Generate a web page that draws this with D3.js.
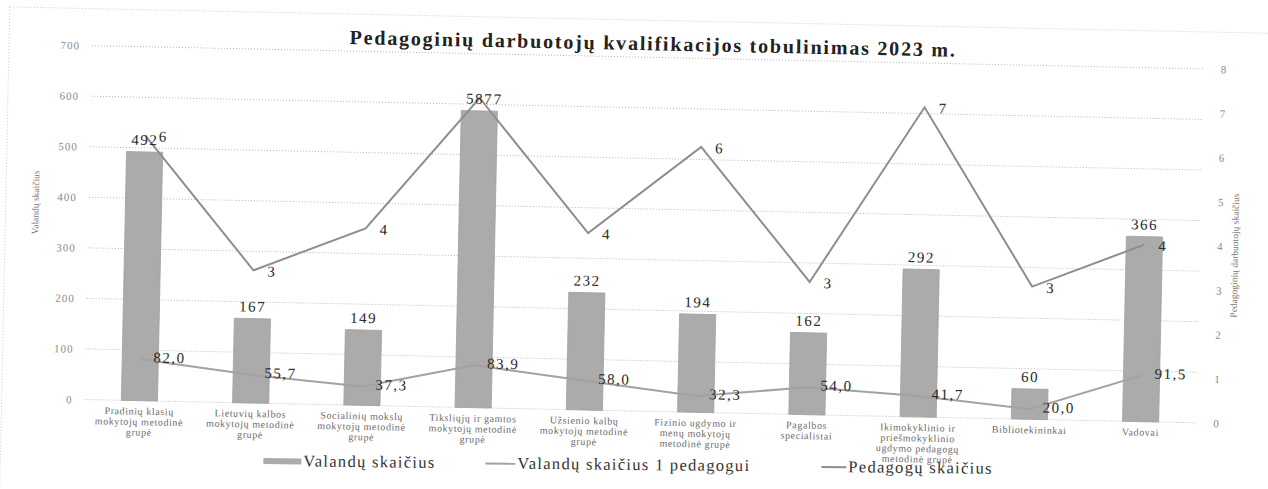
<!DOCTYPE html>
<html>

<head>
    <meta charset='utf-8'>
    <title>Pedagoginių darbuotojų kvalifikacijos tobulinimas 2023 m.</title>
    <script src='https://d3js.org/d3.v7.min.js'></script>
    <style>
        body { margin: 0; background: #fff; }
        svg text { font-family: "Liberation Serif", "Times New Roman", "DejaVu Serif", serif !important; }
    </style>
</head>

<body>
    <script>
        // chart data
        const categories = [
            'Pradinių klasių mokytojų metodinė grupė',
            'Lietuvių kalbos mokytojų metodinė grupė',
            'Socialinių mokslų mokytojų metodinė grupė',
            'Tiksliųjų ir gamtos mokytojų metodinė grupė',
            'Užsienio kalbų mokytojų metodinė grupė',
            'Fizinio ugdymo ir menų mokytojų metodinė grupė',
            'Pagalbos specialistai',
            'Ikimokyklinio ir priešmokyklinio ugdymo pedagogų metodinė grupė',
            'Bibliotekininkai',
            'Vadovai'
        ];
        const hours = [492, 167, 149, 587, 232, 194, 162, 292, 60, 366];
        const hoursPerTeacher = [82.0, 55.7, 37.3, 83.9, 58.0, 32.3, 54.0, 41.7, 20.0, 91.5];
        const teachers = [6, 3, 4, 7, 4, 6, 3, 7, 3, 4];

        const leftTicks = [0, 100, 200, 300, 400, 500, 600, 700];
        const rightTicks = [0, 1, 2, 3, 4, 5, 6, 7, 8];
        const seriesNames = ['Valandų skaičius', 'Valandų skaičius 1 pedagogui', 'Pedagogų skaičius'];

        const width = 1268, height = 489;
        const margin = { top: 57, right: 69, bottom: 78, left: 88 };

        // lithuanian decimal comma
        const lt = d3.formatLocale({ decimal: ',', thousands: ' ', grouping: [3], currency: ['', ' €'] });
        const f1 = lt.format('.1f');

        const svg = d3.select('body')
            .append('svg')
            .attr('width', width)
            .attr('height', height)
            .style('font-family', '"Liberation Serif", "Times New Roman", serif');

        // the scan is turned a little, so the whole chart is too
        const chart = svg.append('g')
            .attr('transform', 'rotate(1.2, 634, 244)');

        // faint chart border
        chart.append('rect')
            .attr('x', 5).attr('y', 20)
            .attr('width', 1300).attr('height', 520)
            .attr('fill', 'none')
            .attr('stroke', '#c8c8c8')
            .attr('stroke-dasharray', '1,2');

        const x = d3.scaleBand()
            .domain(categories)
            .range([margin.left, width - margin.right])
            .paddingInner(0.675)
            .paddingOuter(0.33);

        const yL = d3.scaleLinear()
            .domain([0, 700])
            .range([height - margin.bottom, margin.top]);

        const yR = d3.scaleLinear()
            .domain([0, 8])
            .range([height - margin.bottom, margin.top]);

        const cx = d => x(d) + x.bandwidth() / 2;

        // title
        chart.append('text')
            .attr('x', 649)
            .attr('y', 50)
            .attr('text-anchor', 'middle')
            .attr('font-size', '20px')
            .attr('font-weight', 'bold')
            .attr('letter-spacing', '1.8px')
            .attr('fill', '#222')
            .text('Pedagoginių darbuotojų kvalifikacijos tobulinimas 2023 m.');

        // gridlines
        chart.append('g')
            .selectAll('line')
            .data(leftTicks)
            .enter()
            .append('line')
            .attr('x1', margin.left)
            .attr('x2', width - margin.right)
            .attr('y1', d => yL(d))
            .attr('y2', d => yL(d))
            .attr('stroke', '#b5b5b5')
            .attr('stroke-dasharray', '1,2');

        // left axis
        const leftAxis = chart.append('g')
            .attr('transform', 'translate(' + (margin.left - 12) + ',0)')
            .call(d3.axisLeft(yL).tickValues(leftTicks).tickSize(0).tickPadding(0));
        leftAxis.attr('font-family', null);
        leftAxis.select('.domain').remove();
        leftAxis.selectAll('text')
            .attr('font-size', '11px')
            .attr('letter-spacing', '1px')
            .attr('fill', '#8a8a8a');

        // right axis
        const rightAxis = chart.append('g')
            .attr('transform', 'translate(' + (width - margin.right + 18) + ',0)')
            .call(d3.axisRight(yR).tickValues(rightTicks).tickSize(0).tickPadding(0));
        rightAxis.attr('font-family', null);
        rightAxis.select('.domain').remove();
        rightAxis.selectAll('text')
            .attr('font-size', '11px')
            .attr('fill', '#8a8a8a');

        // axis titles
        chart.append('text')
            .attr('transform', 'translate(38, 215) rotate(-90)')
            .attr('text-anchor', 'middle')
            .attr('font-size', '9.5px')
            .attr('fill', '#777')
            .text('Valandų skaičius');

        chart.append('text')
            .attr('transform', 'translate(1238, 243) rotate(-90)')
            .attr('text-anchor', 'middle')
            .attr('font-size', '9.5px')
            .attr('fill', '#777')
            .text('Pedagoginių darbuotojų skaičius');

        // bars
        chart.append('g')
            .selectAll('rect')
            .data(categories)
            .enter()
            .append('rect')
            .attr('x', d => x(d))
            .attr('y', (d, i) => yL(hours[i]))
            .attr('width', x.bandwidth())
            .attr('height', (d, i) => yL(0) - yL(hours[i]))
            .attr('fill', '#ababab')
            .attr('stroke', '#a0a0a0')
            .attr('stroke-width', 0.8);

        // line: hours per teacher (left axis)
        const line1 = d3.line()
            .x((d, i) => cx(categories[i]))
            .y(d => yL(d));

        chart.append('path')
            .datum(hoursPerTeacher)
            .attr('d', line1)
            .attr('fill', 'none')
            .attr('stroke', '#a2a2a2')
            .attr('stroke-width', 2);

        // line: number of teachers (right axis)
        const line2 = d3.line()
            .x((d, i) => cx(categories[i]))
            .y(d => yR(d));

        chart.append('path')
            .datum(teachers)
            .attr('d', line2)
            .attr('fill', 'none')
            .attr('stroke', '#8e8e8e')
            .attr('stroke-width', 2);

        // labels on bars
        chart.append('g')
            .selectAll('text')
            .data(categories)
            .enter()
            .append('text')
            .attr('x', d => cx(d))
            .attr('y', (d, i) => yL(hours[i]) - 7)
            .attr('text-anchor', 'middle')
            .attr('font-size', '15px')
            .attr('letter-spacing', '1.5px')
            .attr('fill', '#2a2a2a')
            .text((d, i) => hours[i]);

        // labels on hours per teacher
        chart.append('g')
            .selectAll('text')
            .data(categories)
            .enter()
            .append('text')
            .attr('x', d => cx(d) + 13)
            .attr('y', (d, i) => yL(hoursPerTeacher[i]) + 3)
            .attr('font-size', '15px')
            .attr('letter-spacing', '1.5px')
            .attr('fill', '#2a2a2a')
            .text((d, i) => f1(hoursPerTeacher[i]));

        // labels on teacher counts
        chart.append('g')
            .selectAll('text')
            .data(categories)
            .enter()
            .append('text')
            .attr('x', d => cx(d) + 14)
            .attr('y', (d, i) => yR(teachers[i]) + 6)
            .attr('font-size', '15px')
            .attr('fill', '#2a2a2a')
            .text((d, i) => teachers[i]);

        // category labels, wrapped under each bar
        function wrap(sel, maxWidth) {
            sel.each(function () {
                const t = d3.select(this);
                const words = t.text().split(' ');
                const x0 = t.attr('x');
                t.text(null);
                let cur = [];
                let tspan = t.append('tspan').attr('x', x0).attr('dy', 0);
                words.forEach(w => {
                    cur.push(w);
                    tspan.text(cur.join(' '));
                    if (tspan.node().getComputedTextLength() > maxWidth && cur.length > 1) {
                        cur.pop();
                        tspan.text(cur.join(' '));
                        cur = [w];
                        tspan = t.append('tspan').attr('x', x0).attr('dy', '1.05em').text(w);
                    }
                });
            });
        }

        chart.append('g')
            .selectAll('text')
            .data(categories)
            .enter()
            .append('text')
            .attr('x', d => cx(d))
            .attr('y', yL(0) + 14)
            .attr('text-anchor', 'middle')
            .attr('font-size', '10px')
            .attr('letter-spacing', '0.6px')
            .attr('fill', '#6a6a6a')
            .text(d => d)
            .call(wrap, 91);

        // legend, a bit less turned than the plot in the scan
        const legend = chart.append('g')
            .attr('transform', 'translate(0, 466) rotate(-0.6, 630, 0)');

        const legendX = [268, 490, 826];
        const items = legend.selectAll('g')
            .data(seriesNames)
            .enter()
            .append('g')
            .attr('transform', (d, i) => 'translate(' + legendX[i] + ',0)');

        items.filter((d, i) => i === 0)
            .append('rect')
            .attr('x', 0).attr('y', -4)
            .attr('width', 38).attr('height', 6)
            .attr('fill', '#ababab');

        items.filter((d, i) => i > 0)
            .append('line')
            .attr('x1', 0).attr('x2', (d, i) => i === 0 ? 30 : 25)
            .attr('y1', -1).attr('y2', -1)
            .attr('stroke', (d, i) => i === 0 ? '#a2a2a2' : '#8e8e8e')
            .attr('stroke-width', 2);

        items.append('text')
            .attr('x', (d, i) => [40, 32, 27][i])
            .attr('y', 4)
            .attr('font-size', '16.5px')
            .attr('letter-spacing', '1.3px')
            .attr('fill', '#333')
            .text(d => d);
    </script>
</body>

</html>
